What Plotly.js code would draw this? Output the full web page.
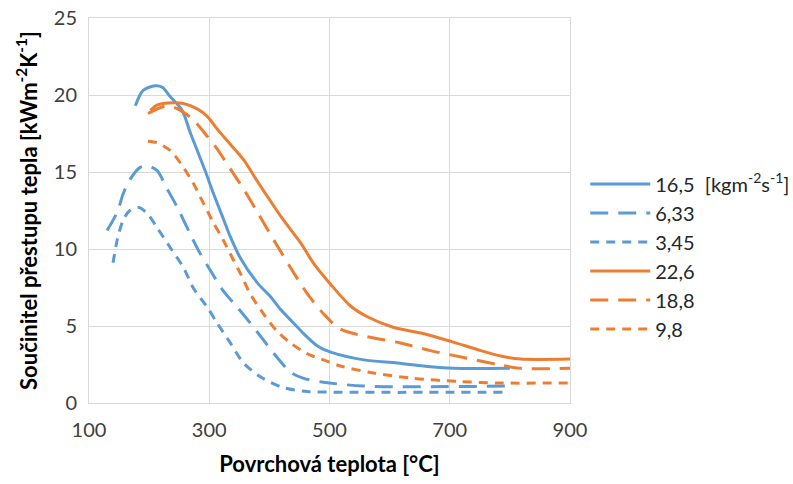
<!DOCTYPE html>
<html>
<head>
<meta charset="utf-8">
<script src="https://cdn.plot.ly/plotly-3.0.1.min.js"></script>
<style>html,body{margin:0;padding:0;background:#fff;}#chart{width:793px;height:484px;}</style>
</head>
<body>
<div id="chart"></div>
<script>
// Series: x = surface temperature [°C], y = heat transfer coefficient [kW m^-2 K^-1]
const names = ["16,5  [kgm<sup>-2</sup>s<sup>-1</sup>]", "6,33", "3,45", "22,6", "18,8", "9,8"];

const x165 = [177, 190, 210, 222, 235, 255, 268, 280, 293, 307, 322, 335, 352, 380, 402, 418, 440, 457, 480, 502, 557, 613, 668, 707, 800];
const y165 = [19.3, 20.3, 20.6, 20.5, 19.9, 19.0, 17.6, 16.4, 15.1, 13.6, 12.1, 10.8, 9.4, 7.8, 6.9, 6.1, 5.2, 4.5, 3.7, 3.3, 2.8, 2.6, 2.35, 2.25, 2.25];

const x633 = [130, 147, 157, 168, 185, 197, 213, 230, 247, 268, 285, 302, 323, 347, 368, 390, 412, 435, 457, 490, 557, 800];
const y633 = [11.2, 12.4, 13.6, 14.5, 15.3, 15.4, 15.1, 13.9, 12.7, 11.0, 9.7, 8.6, 7.3, 6.2, 5.2, 4.1, 3.0, 2.0, 1.6, 1.35, 1.1, 1.1];

const x345 = [140, 147, 157, 168, 183, 197, 213, 235, 257, 273, 297, 313, 335, 357, 385, 423, 463, 520, 800];
const y345 = [9.1, 10.6, 11.9, 12.5, 12.7, 12.3, 11.4, 10.1, 8.8, 7.5, 6.2, 5.2, 3.9, 2.6, 1.7, 1.0, 0.75, 0.7, 0.7];

const x226 = [202, 213, 240, 257, 280, 297, 313, 335, 357, 380, 402, 423, 452, 473, 502, 535, 563, 607, 657, 702, 752, 785, 818, 900];
const y226 = [19.0, 19.35, 19.5, 19.45, 19.1, 18.6, 17.8, 16.8, 15.8, 14.4, 13.1, 11.9, 10.4, 9.1, 7.7, 6.3, 5.6, 4.9, 4.5, 4.0, 3.4, 3.05, 2.85, 2.85];

const x188 = [198, 230, 252, 273, 297, 313, 335, 357, 380, 407, 435, 463, 490, 518, 563, 618, 668, 730, 780, 818, 900];
const y188 = [18.8, 19.3, 19.0, 18.4, 17.3, 16.5, 15.2, 13.9, 12.4, 10.6, 8.8, 7.1, 5.8, 4.8, 4.3, 3.9, 3.4, 2.9, 2.5, 2.25, 2.25];

const x98 = [198, 213, 235, 257, 273, 290, 307, 323, 340, 352, 368, 390, 412, 435, 463, 490, 518, 573, 640, 713, 780, 900];
const y98 = [17.0, 16.9, 16.4, 15.3, 14.3, 13.0, 11.7, 10.6, 9.3, 8.4, 7.1, 5.8, 4.7, 3.9, 3.2, 2.8, 2.4, 1.95, 1.6, 1.4, 1.3, 1.3];

const xTicks = [100, 300, 500, 700, 900];
const yTicks = [0, 5, 10, 15, 20, 25];

const BLUE = "#5B9BD5", ORANGE = "#ED7D31";
const LONG = "18px,10px", SHORT = "9px,7px";

const mk = (x, y, name, color, dash) => ({
  x: x, y: y, name: name, type: "scatter", mode: "lines",
  line: {color: color, width: 3, dash: dash, shape: "spline", smoothing: 0.8},
  hoverinfo: "skip"
});

const data = [
  mk(x165, y165, names[0], BLUE, "solid"),
  mk(x633, y633, names[1], BLUE, LONG),
  mk(x345, y345, names[2], BLUE, SHORT),
  mk(x226, y226, names[3], ORANGE, "solid"),
  mk(x188, y188, names[4], ORANGE, LONG),
  mk(x98, y98, names[5], ORANGE, SHORT)
];

const FONT = "Lato, 'Open Sans', sans-serif";
const layout = {
  width: 793, height: 484,
  margin: {l: 89, r: 223, t: 18, b: 81},
  paper_bgcolor: "#fff", plot_bgcolor: "#fff",
  font: {family: FONT, size: 20, color: "#404040"},
  showlegend: true,
  legend: {xref: "container", yref: "container", x: 0.738, y: 0.66, xanchor: "left", yanchor: "top",
           font: {family: FONT, size: 20, color: "#262626"},
           itemwidth: 60, tracegroupgap: 0, bgcolor: "rgba(0,0,0,0)"},
  xaxis: {
    range: [100, 900], tickvals: xTicks, ticktext: xTicks.map(String),
    showgrid: true, gridcolor: "#d9d9d9", gridwidth: 1,
    showline: true, linecolor: "#d9d9d9", mirror: true, zeroline: false,
    ticks: "", ticklabelstandoff: 9,
    tickfont: {family: FONT, size: 20, color: "#404040"},
    title: {text: "Povrchová teplota [°C]", standoff: 16,
            font: {family: FONT, size: 22, color: "#000", weight: "bold"}}
  },
  yaxis: {
    range: [0, 25], tickvals: yTicks, ticktext: yTicks.map(String),
    showgrid: true, gridcolor: "#d9d9d9", gridwidth: 1,
    showline: true, linecolor: "#d9d9d9", mirror: true, zeroline: false,
    ticks: "", ticklabelstandoff: 7,
    tickfont: {family: FONT, size: 20, color: "#404040"},
    title: {text: "Součinitel přestupu tepla [kWm<sup>-2</sup>K<sup>-1</sup>]", standoff: 10,
            font: {family: FONT, size: 22, color: "#000", weight: "bold"}}
  }
};

Plotly.newPlot("chart", data, layout, {displayModeBar: false, staticPlot: true});
</script>
</body>
</html>
